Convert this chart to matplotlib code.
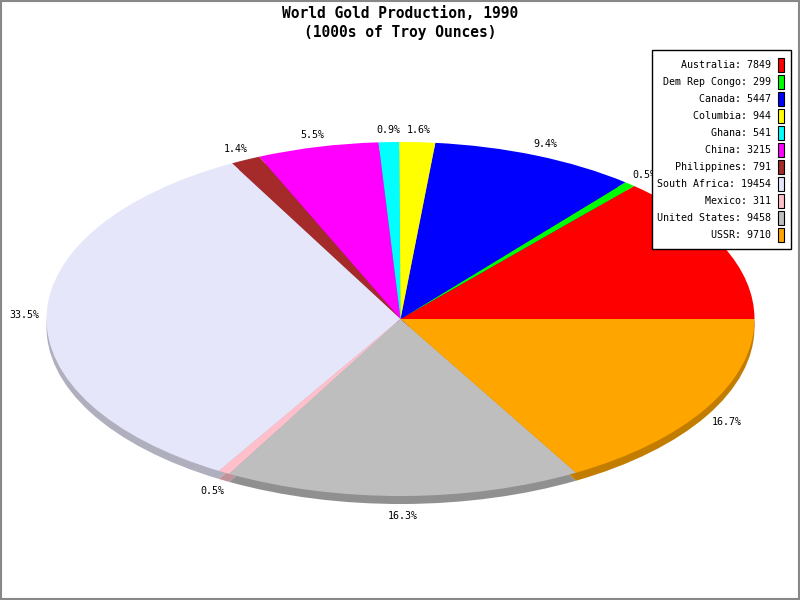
import numpy as np
import matplotlib
matplotlib.use("Agg")
import matplotlib.pyplot as plt
from matplotlib.colors import to_rgb
from matplotlib.patches import Rectangle

countries = ["Australia", "Dem Rep Congo", "Canada", "Columbia", "Ghana", "China",
             "Philippines", "South Africa", "Mexico", "United States", "USSR"]
production = [7849, 299, 5447, 944, 541, 3215, 791, 19454, 311, 9458, 9710]
colors = ["#ff0000", "#00ff00", "#0000ff", "#ffff00", "#00ffff", "#ff00ff",
          "#a52a2a", "#e6e6fa", "#ffc0cb", "#bebebe", "#ffa500"]

title = "World Gold Production, 1990\n(1000s of Troy Ounces)"
mono = "DejaVu Sans Mono"

W, H = 800, 600
cx, cy = 400.5, 319      # pie centre, pixels from top-left
rx, ry = 354, 177        # ellipse radii in pixels
depth = 8                # thickness of the pie edge

fig = plt.figure(figsize=(8, 6), dpi=100)
ax = fig.add_axes([0, 0, 1, 1])

# darker copy shifted down gives the 3d edge
side = [tuple(c * 0.76 for c in to_rgb(col)) for col in colors]
ax.pie(production, colors=side, startangle=0, counterclock=True,
       center=(0, -depth / ry), radius=1, wedgeprops=dict(linewidth=0))
wedges, _ = ax.pie(production, colors=colors, startangle=0, counterclock=True,
                   center=(0, 0), radius=1, wedgeprops=dict(linewidth=0))

# data unit = rx px horizontally, ry px vertically
ax.set_aspect("auto")
ax.set_xlim(-cx / rx, (W - cx) / rx)
ax.set_ylim(-(H - cy) / ry, cy / ry)
ax.axis("off")

total = float(sum(production))
for w, v in zip(wedges, production):
    th = np.deg2rad((w.theta1 + w.theta2) / 2)
    x = 1.064 * np.cos(th)
    y = 1.068 * np.sin(th)
    if np.sin(th) < 0:
        y -= depth / ry
    ax.text(x, y, "%.1f%%" % (100 * v / total), ha="center", va="center",
            fontsize=7.2, family=mono, zorder=3)

# overlay in pixel coords for title, legend and border
lax = fig.add_axes([0, 0, 1, 1])
lax.set_xlim(0, W)
lax.set_ylim(H, 0)
lax.axis("off")

lax.text(W / 2, 13, title.split("\n")[0], ha="center", va="center",
         fontsize=10.5, family=mono, weight="bold")
lax.text(W / 2, 32, title.split("\n")[1], ha="center", va="center",
         fontsize=10.5, family=mono, weight="bold")

lax.add_patch(Rectangle((652, 50), 139, 199, facecolor="white",
                        edgecolor="black", linewidth=1, zorder=4))
for i, (name, val, col) in enumerate(zip(countries, production, colors)):
    yy = 65 + 17 * i
    lax.text(771, yy, "%s: %d" % (name, val), ha="right", va="center",
             fontsize=7.2, family=mono, zorder=5)
    lax.add_patch(Rectangle((778, yy - 7), 6, 14, facecolor=col,
                            edgecolor="black", linewidth=0.8, zorder=5))

lax.add_patch(Rectangle((1, 1), W - 2, H - 2, facecolor="none",
                        edgecolor="#888888", linewidth=1.5, zorder=6))

fig.savefig("out.png", dpi=100)
